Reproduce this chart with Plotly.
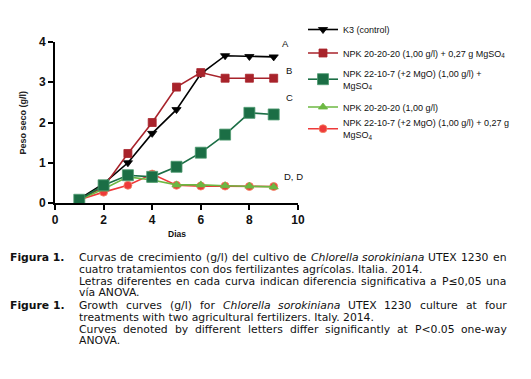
import plotly.graph_objects as go

days = [1, 2, 3, 4, 5, 6, 7, 8, 9]
k3_control = [0.10, 0.48, 1.00, 1.73, 2.32, 3.21, 3.66, 3.64, 3.63]
npk202020_mg = [0.08, 0.40, 1.23, 2.00, 2.88, 3.24, 3.10, 3.10, 3.10]
npk22107_mg = [0.08, 0.44, 0.69, 0.65, 0.90, 1.25, 1.70, 2.24, 2.20]
npk202020 = [0.08, 0.35, 0.65, 0.57, 0.45, 0.45, 0.43, 0.42, 0.40]
npk22107_027mg = [0.08, 0.27, 0.44, 0.72, 0.44, 0.42, 0.42, 0.41, 0.41]

names = [
    "K3 (control)",
    "NPK 20-20-20 (1,00 g/l) + 0,27 g MgSO<sub>4</sub>",
    "NPK 22-10-7 (+2 MgO) (1,00 g/l) +<br>MgSO<sub>4</sub>",
    "NPK 20-20-20 (1,00 g/l)",
    "NPK 22-10-7 (+2 MgO) (1,00 g/l) + 0,27 g<br>MgSO<sub>4</sub>",
]
letters = ["A", "B", "C", "D, D"]
x_ticks = [0, 2, 4, 6, 8, 10]
y_ticks = [0, 1, 2, 3, 4]

C_BLACK = "#000000"
C_DRED = "#A8232B"
C_DGREEN = "#1B6E45"
C_LGREEN = "#6CB842"
C_RED = "#EE3A3A"

# figure frame (page has 8px body margin)
W, H = 523, 371
PL, PR, PT, PB = 47, 290, 34, 195  # plot area in figure px

def px_x(x):
    return (x - PL) / (PR - PL)

def px_y(y):
    return (PB - y) / (PB - PT)

fig = go.Figure()

def add(y, name, color, symbol, size, legend, lw=1.6, outline=None):
    fig.add_trace(go.Scatter(
        x=days, y=y, name=name, mode="lines+markers",
        line=dict(color=color, width=lw),
        marker=dict(symbol=symbol, size=size, color=color,
                    line=dict(color=outline or color, width=0.8)),
        legend=legend,
    ))

add(k3_control, names[0], C_BLACK, "triangle-down", 8, "legend")
add(npk202020_mg, names[1], C_DRED, "square", 8, "legend2")
add(npk22107_027mg, names[4], C_RED, "circle", 8, "legend5", outline="#F28A6A")
add(npk202020, names[3], C_LGREEN, "triangle-up", 8, "legend4")
add(npk22107_mg, names[2], C_DGREEN, "square", 11, "legend3", outline="#4E9A70")

# significance letters
letter_pos = [(9.24, 3.97), (9.42, 3.28), (9.42, 2.63), (9.34, 0.67)]
for t, (lx, ly) in zip(letters, letter_pos):
    fig.add_annotation(x=lx, y=ly, text=t, showarrow=False, xanchor="left",
                       yanchor="middle", font=dict(size=9.5, color="#111",
                       family="Liberation Sans, Arial"))

# axis titles
fig.add_annotation(xref="paper", yref="paper", x=px_x(14), y=0.5, xanchor="center",
                   text="<b>Peso seco (g/l)</b>", textangle=-90, showarrow=False,
                   font=dict(size=9, family="Liberation Sans, Arial", color="#222"))
fig.add_annotation(x=5, y=0, xref="x", yref="paper", yshift=-31,
                   text="<b>Dias</b>", showarrow=False, yanchor="middle",
                   font=dict(size=8.5, family="Liberation Sans, Arial", color="#111"))

# ---- caption (justified text) ----
ADV = {' ': 651, '!': 821, '(': 799, ')': 799, '+': 1716, ',': 651, '-': 739, '.': 651,
       '/': 690, '<': 1716, '=': 1716, '>': 1716, '≤': 1716,
       'A': 1401, 'B': 1405, 'C': 1430, 'D': 1577, 'E': 1294, 'F': 1178, 'G': 1587,
       'H': 1540, 'I': 604, 'J': 604, 'K': 1343, 'L': 1141, 'M': 1767, 'N': 1532,
       'O': 1612, 'P': 1235, 'Q': 1612, 'R': 1423, 'S': 1300, 'T': 1251, 'U': 1499,
       'V': 1401, 'W': 2025, 'X': 1403, 'Y': 1251, 'Z': 1403,
       'a': 1255, 'b': 1300, 'c': 1126, 'd': 1300, 'e': 1260, 'f': 721, 'g': 1300,
       'h': 1298, 'i': 569, 'j': 569, 'k': 1186, 'l': 569, 'm': 1995, 'n': 1298,
       'o': 1253, 'p': 1300, 'q': 1300, 'r': 842, 's': 1067, 't': 803, 'u': 1298,
       'v': 1212, 'w': 1675, 'x': 1212, 'y': 1212, 'z': 1075, 'í': 569}
for d in "0123456789":
    ADV[d] = 1303

FS = 10.8

def text_w(s):
    return sum(ADV.get(c, 1250) for c in s) / 2048 * FS * 0.982

cap_font = dict(size=FS, family="DejaVu Sans, Verdana", color="#111")
ITALIC = {"Chlorella", "sorokiniana"}
LEFT, RIGHT = 79 - 8 - 2, 505 - 8 - 1
lines = [
    ("Figura 1.", "Curvas de crecimiento (g/l) del cultivo de Chlorella sorokiniana UTEX 1230 en", 258, True),
    ("", "cuatro tratamientos con dos fertilizantes agrícolas. Italia. 2014.", 269.5, False),
    ("", "Letras diferentes en cada curva indican diferencia significativa a P≤0,05 una", 281, True),
    ("", "vía ANOVA.", 292.5, False),
    ("Figure 1.", "Growth curves (g/l) for Chlorella sorokiniana UTEX 1230 culture at four", 305, True),
    ("", "treatments with two agricultural fertilizers. Italy. 2014.", 317, False),
    ("", "Curves denoted by different letters differ significantly at P<0.05 one-way", 329, True),
    ("", "ANOVA.", 340.5, False),
]
for lab, txt, ypx, justify in lines:
    yp = px_y(ypx - 8)
    if lab:
        fig.add_annotation(xref="paper", yref="paper", x=px_x(10 - 8 - 2), y=yp,
                           text="<b>" + lab + "</b>", showarrow=False, xanchor="left",
                           yanchor="middle", font=cap_font)
    if not justify:
        fig.add_annotation(xref="paper", yref="paper", x=px_x(LEFT), y=yp,
                           text=txt, showarrow=False, xanchor="left", yanchor="middle",
                           font=cap_font)
        continue
    words = txt.split(" ")
    widths = [text_w(w) for w in words]
    gap = (RIGHT - LEFT - sum(widths)) / (len(words) - 1)
    xcur = LEFT
    for w, ww in zip(words, widths):
        t = "<i>" + w + "</i>" if w in ITALIC else w
        fig.add_annotation(xref="paper", yref="paper", x=px_x(xcur), y=yp,
                           text=t, showarrow=False, xanchor="left", yanchor="middle",
                           font=cap_font)
        xcur += ww + gap

leg_common = dict(xanchor="left", yanchor="middle", itemwidth=30,
                  font=dict(size=9, family="Liberation Sans, Arial", color="#111"),
                  bgcolor="rgba(0,0,0,0)")
leg_x = px_x(295)
leg_centers = [21.5, 45, 71.5, 99, 121]

fig.update_layout(
    width=W, height=H,
    margin=dict(l=PL, r=W - PR, t=PT, b=H - PB, autoexpand=False),
    paper_bgcolor="white", plot_bgcolor="white",
    showlegend=True,
    legend=dict(x=leg_x, y=px_y(leg_centers[0]), **leg_common),
    legend2=dict(x=leg_x, y=px_y(leg_centers[1]), **leg_common),
    legend3=dict(x=leg_x, y=px_y(leg_centers[2]), **leg_common),
    legend4=dict(x=leg_x, y=px_y(leg_centers[3]), **leg_common),
    legend5=dict(x=leg_x, y=px_y(leg_centers[4]), **leg_common),
    xaxis=dict(range=[0, 10], tickvals=x_ticks, showgrid=False, zeroline=False,
               showline=True, linecolor="black", linewidth=2,
               ticks="outside", ticklen=5, tickwidth=1.5, tickcolor="black",
               tickfont=dict(size=12, family="Liberation Sans, Arial", color="#111", weight="bold"),
               fixedrange=True),
    yaxis=dict(range=[0, 4], tickvals=y_ticks, showgrid=False, zeroline=False,
               showline=True, linecolor="black", linewidth=2,
               ticks="outside", ticklen=5, tickwidth=1.5, tickcolor="black",
               tickfont=dict(size=12, family="Liberation Sans, Arial", color="#111", weight="bold"),
               fixedrange=True),
)

fig.write_html("out.html")
